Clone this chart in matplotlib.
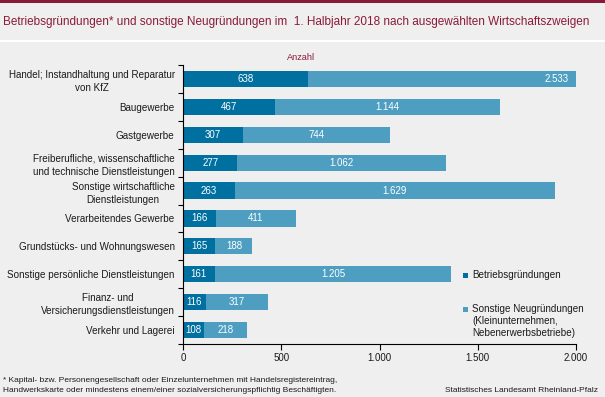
import matplotlib
matplotlib.use("Agg")
import matplotlib.pyplot as plt
from matplotlib.patches import Rectangle

plt.rcParams['font.family'] = ['Liberation Sans', 'DejaVu Sans']

categories = [
    "Handel; Instandhaltung und Reparatur\nvon KfZ",
    "Baugewerbe",
    "Gastgewerbe",
    "Freiberufliche, wissenschaftliche\nund technische Dienstleistungen",
    "Sonstige wirtschaftliche\nDienstleistungen",
    "Verarbeitendes Gewerbe",
    "Grundstücks- und Wohnungswesen",
    "Sonstige persönliche Dienstleistungen",
    "Finanz- und\nVersicherungsdienstleistungen",
    "Verkehr und Lagerei",
]
betriebe = [638, 467, 307, 277, 263, 166, 165, 161, 116, 108]
sonstige = [2533, 1144, 744, 1062, 1629, 411, 188, 1205, 317, 218]
xticks = [0, 500, 1000, 1500, 2000]
xmax = 2000

BG = "#EEEFEE"
DARK = "#0070A0"
LIGHT = "#4D9EC1"
RED = "#8B1A3A"
TXT = "#1A1A1A"

W, H = 605, 397
fig = plt.figure(figsize=(W / 100, H / 100), dpi=100)
fig.patch.set_facecolor(BG)

def fx(px):
    return px / W

def fy(py):
    return 1 - py / H

# top bar and white separator
fig.add_artist(Rectangle((0, fy(2.5)), 1, 2.5 / H, transform=fig.transFigure,
                         facecolor=RED, edgecolor='none'))
fig.add_artist(Rectangle((0, fy(42)), 1, 2.5 / H, transform=fig.transFigure,
                         facecolor='white', edgecolor='none'))

fig.text(fx(3), fy(22), "Betriebsgründungen* und sonstige Neugründungen im  1. Halbjahr 2018 nach ausgewählten Wirtschaftszweigen",
         color=RED, fontsize=8.5, ha='left', va='center')
fig.text(fx(301), fy(57), "Anzahl", color=RED, fontsize=6.6, ha='center', va='center')

ax = fig.add_axes([fx(183), fy(344), fx(576) - fx(183), (344 - 65) / H])
ax.set_facecolor(BG)

n = len(categories)
ypos = list(range(n))
bh = 0.58
ax.barh(ypos, betriebe, height=bh, color=DARK, zorder=2)
ax.barh(ypos, sonstige, left=betriebe, height=bh, color=LIGHT, zorder=2)

def fmt(v):
    return f"{v:,}".replace(",", ".")

FS = 7.0
for i, (b, s) in enumerate(zip(betriebe, sonstige)):
    ax.text(b / 2, i, fmt(b), color='white', fontsize=FS, ha='center', va='center', zorder=3)
    if b + s > xmax:
        ax.text(xmax - 35, i, fmt(s), color='white', fontsize=FS, ha='right', va='center', zorder=3)
    else:
        ax.text(b + s / 2, i, fmt(s), color='white', fontsize=FS, ha='center', va='center', zorder=3)

ax.set_xlim(0, xmax)
ax.set_ylim(n - 0.5, -0.5)
ax.set_xticks(xticks)
ax.set_xticklabels([fmt(v) for v in xticks], fontsize=FS, color=TXT)
ax.tick_params(axis='x', direction='out', length=4, width=0.8, pad=2.5)

ax.set_yticks(ypos)
ax.set_yticklabels(categories, fontsize=7.1, color=TXT)
ax.tick_params(axis='y', which='major', length=0, pad=6)
ax.set_yticks([i - 0.5 for i in range(n + 1)], minor=True)
ax.tick_params(axis='y', which='minor', direction='out', length=3.5, width=0.8)
for lab in ax.get_yticklabels():
    lab.set_multialignment('center')
    lab.set_linespacing(1.4)

for sp in ['top', 'right']:
    ax.spines[sp].set_visible(False)
ax.spines['left'].set_linewidth(0.8)
ax.spines['bottom'].set_linewidth(0.8)

# legend
fig.add_artist(Rectangle((fx(463), fy(277.5)), 5 / W, 5 / H, transform=fig.transFigure,
                         facecolor=DARK, edgecolor='none'))
fig.text(fx(472), fy(275), "Betriebsgründungen", fontsize=7.1, color=TXT, ha='left', va='center')
fig.add_artist(Rectangle((fx(463), fy(311.5)), 5 / W, 5 / H, transform=fig.transFigure,
                         facecolor=LIGHT, edgecolor='none'))
for k, line in enumerate(["Sonstige Neugründungen", "(Kleinunternehmen,", "Nebenerwerbsbetriebe)"]):
    fig.text(fx(472), fy(309 + 12 * k), line, fontsize=7.1, color=TXT, ha='left', va='center')

# footer
fig.text(fx(3), fy(381), "* Kapital- bzw. Personengesellschaft oder Einzelunternehmen mit Handelsregistereintrag,",
         fontsize=6.0, color=TXT, ha='left', va='center')
fig.text(fx(3), fy(391), "Handwerkskarte oder mindestens einem/einer sozialversicherungspflichtig Beschäftigten.",
         fontsize=6.0, color=TXT, ha='left', va='center')
fig.text(fx(598), fy(391), "Statistisches Landesamt Rheinland-Pfalz",
         fontsize=6.0, color=TXT, ha='right', va='center')

fig.savefig("out.png", dpi=100, facecolor=BG)
